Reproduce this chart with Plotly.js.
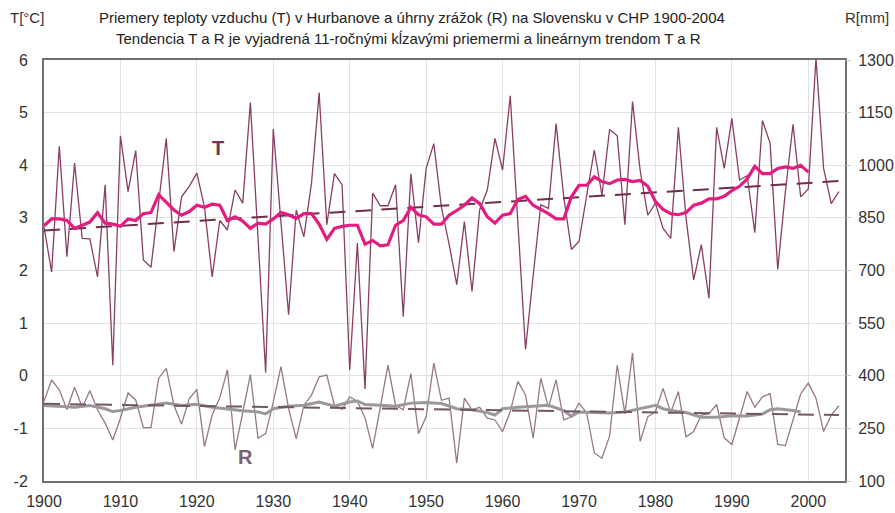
<!DOCTYPE html>
<html>
<head>
<meta charset="utf-8">
<script src="https://cdn.plot.ly/plotly-3.0.1.min.js"></script>
<style>html,body{margin:0;padding:0;background:#fff;}#chart{width:895px;height:513px;}</style>
</head>
<body>
<div id="chart"></div>
<script>
// ---- data ----
const startYear = 1900;
// annual air temperature T [°C], 1900-2004
const tAnnual = [2.83,1.97,4.36,2.26,4.04,2.61,2.60,1.88,3.63,0.20,
  4.56,3.50,4.28,2.20,2.06,3.30,4.51,2.36,3.40,3.60,
  3.85,3.20,1.88,2.95,2.77,3.53,3.28,5.19,2.60,0.06,
  4.69,3.00,1.16,3.15,2.64,3.66,5.38,2.87,3.84,3.63,
  0.11,2.52,-0.25,3.47,3.23,3.23,3.63,1.12,3.84,2.53,
  3.94,4.41,3.20,2.50,1.73,2.93,1.60,3.15,3.53,4.51,
  3.91,5.32,3.00,0.50,1.90,3.25,3.18,4.79,3.40,2.40,
  2.55,3.40,4.29,3.43,4.68,4.56,2.87,5.21,3.90,3.05,
  3.28,2.80,2.61,4.72,3.00,1.82,2.49,1.47,4.72,3.94,
  4.89,3.72,3.80,2.72,4.85,4.42,2.02,3.50,4.78,3.40,
  3.55,6.04,3.94,3.27,3.50];
// 11-year moving average of T, 1900-2000
const tMoving = [2.85,2.98,2.98,2.95,2.80,2.86,2.92,3.10,2.90,2.88,
  2.84,2.98,2.95,3.08,3.10,3.44,3.30,3.15,3.05,3.12,
  3.24,3.20,3.26,3.24,2.95,3.02,2.94,2.80,2.90,2.88,
  2.98,3.10,3.06,2.99,3.08,3.08,2.88,2.59,2.80,2.84,
  2.86,2.86,2.50,2.57,2.47,2.49,2.86,2.95,3.20,3.06,
  3.02,2.88,2.88,3.05,3.14,3.24,3.38,3.27,3.02,2.90,
  3.05,3.08,3.35,3.41,3.24,3.16,3.08,2.98,2.98,3.40,
  3.62,3.62,3.78,3.69,3.65,3.72,3.73,3.69,3.71,3.60,
  3.31,3.16,3.08,3.06,3.10,3.24,3.28,3.36,3.36,3.41,
  3.52,3.60,3.74,3.98,3.84,3.84,3.94,3.97,3.94,4.00,
  3.87];
// linear trend of T (end points)
const tTrendYears = [1900, 2004];
const tTrend = [2.76, 3.70];

// annual precipitation R [mm], 1900-2004
const rAnnual = [327,388,360,304,367,310,357,303,265,217,
  279,351,331,252,252,393,421,316,262,334,
  361,198,288,337,417,189,295,403,222,235,
  325,426,307,220,316,345,397,402,316,304,
  340,327,280,193,310,430,316,303,406,235,
  283,436,330,336,151,336,303,310,279,274,
  241,298,384,345,222,393,310,388,274,283,
  322,294,180,165,228,430,292,465,213,283,
  298,364,295,355,226,241,288,292,318,223,
  204,283,355,310,340,349,204,201,273,348,
  379,336,241,288,315];
// 11-year moving average of R (years where read)
const rMovingYears = [1900,1902,1904,1906,1908,1909,1910,1912,1914,1916,
  1918,1920,1922,1924,1926,1928,1929,1930,1932,1934,
  1936,1938,1940,1941,1942,1944,1946,1948,1950,1952,
  1954,1956,1958,1959,1960,1962,1964,1966,1968,1969,
  1970,1972,1974,1976,1978,1980,1981,1982,1984,1986,
  1988,1990,1992,1994,1995,1996,1998,1999];
const rMoving = [315,312,310,315,306,298,301,310,315,322,
  315,319,310,304,300,297,291,306,313,316,
  325,313,325,328,318,316,313,322,324,321,
  306,303,295,288,306,310,313,316,301,285,
  297,295,294,297,307,316,306,301,295,282,
  282,286,285,291,303,306,301,297];
// linear trend of R (end points)
const rTrendYears = [1900, 2004];
const rTrend = [320, 288];

const xTicks = [1900,1910,1920,1930,1940,1950,1960,1970,1980,1990,2000];
const yLeftTicks = [-2,-1,0,1,2,3,4,5,6];
const yRightTicks = [100,250,400,550,700,850,1000,1150,1300];

const titleLine1 = 'Priemery teploty vzduchu (T) v Hurbanove a úhrny zrážok (R) na Slovensku v CHP 1900-2004';
const titleLine2 = 'Tendencia T a R je vyjadrená 11-ročnými kĺzavými priemermi a lineárnym trendom T a R';

// ---- build ----
const yearsT = tAnnual.map((_, i) => startYear + i);
const yearsTm = tMoving.map((_, i) => startYear + i);
const yearsR = rAnnual.map((_, i) => startYear + i);

const FONT = 'Liberation Sans, Arial, sans-serif';
const C_T = 'rgb(138,62,100)';
const C_TM = 'rgb(228,28,128)';
const C_TT = 'rgb(110,45,75)';
const C_R = 'rgb(150,120,138)';
const C_RM = 'rgb(155,152,155)';
const C_RT = 'rgb(115,85,100)';

const traces = [
  {x: yearsR, y: rAnnual, yaxis: 'y2', mode: 'lines', line: {color: C_R, width: 1.3}, hoverinfo: 'skip'},
  {x: rMovingYears, y: rMoving, yaxis: 'y2', mode: 'lines', line: {color: C_RM, width: 3}, hoverinfo: 'skip'},
  {x: rTrendYears, y: rTrend, yaxis: 'y2', mode: 'lines', line: {color: C_RT, width: 2, dash: '16px,10px'}, hoverinfo: 'skip'},
  {x: yearsT, y: tAnnual, mode: 'lines', line: {color: C_T, width: 1.3}, hoverinfo: 'skip'},
  {x: tTrendYears, y: tTrend, mode: 'lines', line: {color: C_TT, width: 2, dash: '16px,10px'}, hoverinfo: 'skip'},
  {x: yearsTm, y: tMoving, mode: 'lines', line: {color: C_TM, width: 3.2}, hoverinfo: 'skip'}
];

const layout = {
  width: 895, height: 513,
  margin: {l: 44, r: 50, t: 60, b: 32},
  paper_bgcolor: '#fff', plot_bgcolor: '#fff',
  showlegend: false,
  font: {family: FONT, size: 14, color: '#333'},
  xaxis: {
    range: [1900, 2004.8], tickvals: xTicks, ticktext: xTicks.map(String),
    showgrid: true, gridcolor: '#e2e2e2', gridwidth: 1,
    showline: true, linecolor: '#707070', linewidth: 2, mirror: true,
    ticks: '', ticklabelstandoff: 5, zeroline: false,
    tickfont: {family: FONT, size: 16, color: '#333'}
  },
  yaxis: {
    range: [-2, 6], tickvals: yLeftTicks, ticktext: yLeftTicks.map(String),
    showgrid: true, gridcolor: '#e2e2e2', gridwidth: 1,
    showline: true, linecolor: '#707070', linewidth: 2, mirror: true,
    ticks: '', ticklabelstandoff: 11, zeroline: false,
    tickfont: {family: FONT, size: 16, color: '#333'}
  },
  yaxis2: {
    overlaying: 'y', side: 'right',
    range: [100, 1300], tickvals: yRightTicks, ticktext: yRightTicks.map(String),
    showgrid: false, zeroline: false, showline: false,
    ticks: 'outside', ticklen: 5, tickcolor: '#c8c8c8', ticklabelstandoff: 4,
    tickfont: {family: FONT, size: 16, color: '#333'}
  },
  annotations: [
    {text: titleLine1, xref: 'paper', yref: 'paper', x: 0.459, y: 1.0998, xanchor: 'center', yanchor: 'middle', showarrow: false, font: {family: FONT, size: 15, color: '#222'}},
    {text: titleLine2, xref: 'paper', yref: 'paper', x: 0.455, y: 1.052, xanchor: 'center', yanchor: 'middle', showarrow: false, font: {family: FONT, size: 15, color: '#222'}},
    {text: 'T[°C]', xref: 'paper', yref: 'paper', x: -0.021, y: 1.0998, xanchor: 'center', yanchor: 'middle', showarrow: false, font: {family: FONT, size: 15, color: '#333'}},
    {text: 'R[mm]', xref: 'paper', yref: 'paper', x: 1.027, y: 1.0998, xanchor: 'center', yanchor: 'middle', showarrow: false, font: {family: FONT, size: 15, color: '#333'}},
    {text: '<b>T</b>', xref: 'x', yref: 'y', x: 1922.7, y: 4.33, showarrow: false, font: {family: FONT, size: 20, color: 'rgb(120,50,85)'}},
    {text: '<b>R</b>', xref: 'x', yref: 'y', x: 1926.3, y: -1.54, showarrow: false, font: {family: FONT, size: 20, color: 'rgb(125,95,110)'}}
  ]
};

Plotly.newPlot('chart', traces, layout, {staticPlot: true, displayModeBar: false});
</script>
</body>
</html>
